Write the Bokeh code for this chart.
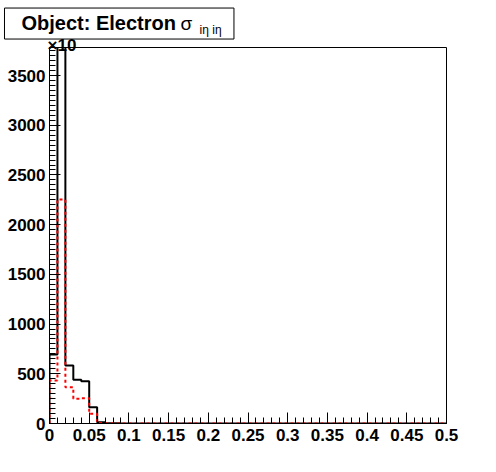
import numpy as np
from bokeh.plotting import figure
from bokeh.models import Label, FixedTicker, Range1d
from bokeh.embed import file_html
from bokeh.resources import INLINE

# ---- data ----
bin_low, bin_high, n_bins = 0.0, 0.5, 50
black_counts = [695, 4400, 583, 440, 425, 164, 13, 3, 2, 1,
                1, 0, 1, 0, 0, 0, 0, 0, 0, 0,
                0, 0, 0, 0, 0, 0, 0, 0, 0, 0,
                0, 0, 0, 0, 0, 0, 0, 0, 0, 0,
                0, 0, 0, 0, 0, 0, 0, 0, 0, 0]
red_counts = [432, 2253, 365, 250, 255, 97, 5, 2, 1, 1,
              0, 0, 0, 0, 0, 0, 0, 0, 0, 0,
              0, 0, 0, 0, 0, 0, 0, 0, 0, 0,
              0, 0, 0, 0, 0, 0, 0, 0, 0, 0,
              0, 0, 0, 0, 0, 0, 0, 0, 0, 0]
x_ticks = [0, 0.05, 0.1, 0.15, 0.2, 0.25, 0.3, 0.35, 0.4, 0.45, 0.5]
x_tick_labels = ["0", "0.05", "0.1", "0.15", "0.2", "0.25", "0.3", "0.35", "0.4", "0.45", "0.5"]
y_ticks = [0, 500, 1000, 1500, 2000, 2500, 3000, 3500]
y_max = 3782
title_main = "Object: Electron"
title_sym = "σ"
title_sub = "iη iη"

edges = np.linspace(bin_low, bin_high, n_bins + 1)
x_minor = list(edges)
y_minor = list(np.arange(0, y_max, 50))


def outline(counts):
    xs = [edges[0]]
    ys = [0]
    for i, c in enumerate(counts):
        xs += [edges[i], edges[i + 1]]
        ys += [c, c]
    xs.append(edges[-1])
    ys.append(0)
    return xs, ys


p = figure(width=490, height=466, output_backend="svg", toolbar_location=None,
           x_range=Range1d(bin_low, bin_high), y_range=Range1d(0, y_max),
           min_border_left=49, min_border_right=44, min_border_top=47, min_border_bottom=43)
p.background_fill_color = "white"
p.border_fill_color = "white"
p.outline_line_color = "black"
p.outline_line_width = 1
p.xgrid.visible = False
p.ygrid.visible = False

bx, by = outline(black_counts)
rx, ry = outline(red_counts)
p.line(bx, by, line_color="black", line_width=2)
p.line(rx, ry, line_color="#ff0000", line_width=2, line_dash="3 3")

p.xaxis.ticker = FixedTicker(ticks=x_ticks, minor_ticks=x_minor)
p.xaxis.major_label_overrides = {t: l for t, l in zip(x_ticks, x_tick_labels)}
p.yaxis.ticker = FixedTicker(ticks=y_ticks, minor_ticks=y_minor)
for ax in (p.xaxis[0], p.yaxis[0]):
    ax.axis_line_color = "black"
    ax.axis_line_width = 1
    ax.major_tick_in = 11
    ax.major_tick_out = 0
    ax.minor_tick_in = 6
    ax.minor_tick_out = 0
    ax.major_tick_line_color = "black"
    ax.minor_tick_line_color = "black"
    ax.major_label_text_font = "Liberation Sans"
    ax.major_label_text_font_style = "bold"
    ax.major_label_text_font_size = "17px"
    ax.major_label_text_color = "black"
p.xaxis.major_label_standoff = 5
p.yaxis.major_label_standoff = 4

# annotations in side panels (not clipped to the frame), positioned in data units
p.add_layout(Label(x=-0.0025, y=3802, text="×10",
                   text_font="Liberation Sans", text_font_style="bold",
                   text_font_size="17px", text_color="black", text_baseline="alphabetic"), "right")
p.add_layout(Label(x=-0.05668, y=4023, text=title_main, level="overlay",
                   text_font="Liberation Sans", text_font_style="bold",
                   text_font_size="20px", text_color="black", text_baseline="alphabetic",
                   background_fill_color="white", border_line_color="black",
                   border_line_width=1, padding=(17, 58, 4, 5)), "above")
p.add_layout(Label(x=0.165, y=4023, text=title_sym, level="overlay",
                   text_font="Liberation Sans", text_font_size="19px",
                   text_color="black", text_baseline="alphabetic"), "right")
p.add_layout(Label(x=0.189, y=3953, text=title_sub, level="overlay",
                   text_font="Liberation Sans", text_font_size="12px",
                   text_color="black", text_baseline="alphabetic"), "below")

open("out.html", "w").write(file_html(p, INLINE))
